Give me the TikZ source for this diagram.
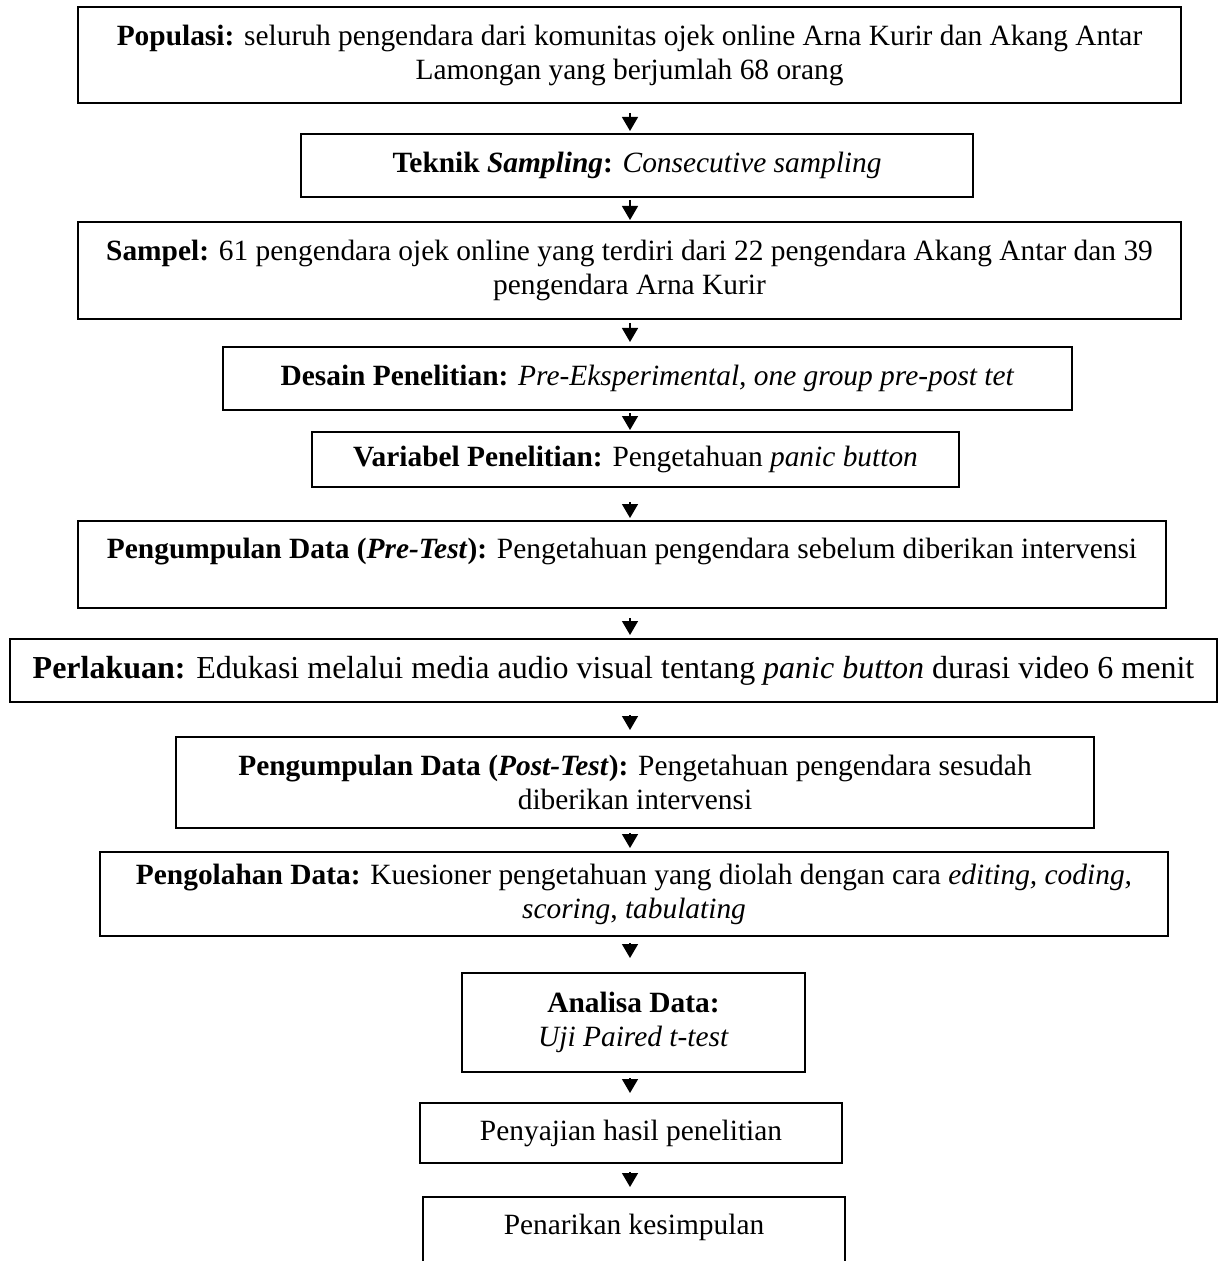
\documentclass[tikz,border=0pt]{standalone}
\usepackage{fontspec}
\setmainfont{Liberation Serif}
\usetikzlibrary{arrows.meta}

\tikzset{
  box/.style={draw, line width=1.1pt, inner sep=0pt, outer sep=0pt, align=center,
    font=\fontsize{14.7}{17}\selectfont},
  arr/.style={line width=0.7pt, -{Triangle[width=8pt,length=7pt]}},
}

\begin{document}
\begin{tikzpicture}[x=0.5pt, y=-0.5pt]
  \useasboundingbox (0,0) rectangle (1219,1261);
  \fill[white] (0,0) rectangle (1219,1261);
  \coordinate (axis) at (630,0);

  % kotak alur penelitian
  \node[box, minimum width=551.5pt, minimum height=48pt] (pop) at (629.5,55)
    {\textbf{Populasi:} seluruh pengendara dari komunitas ojek online Arna Kurir dan Akang Antar\\
     Lamongan yang berjumlah 68 orang};
  \node[box, minimum width=336pt, minimum height=31.5pt] (teknik) at (637,165.5)
    {\textbf{Teknik \textit{Sampling}:} \textit{Consecutive sampling}};
  \node[box, minimum width=551.5pt, minimum height=48.5pt] (sampel) at (629.5,270.5)
    {\textbf{Sampel:} 61 pengendara ojek online yang terdiri dari 22 pengendara Akang Antar dan 39\\
     pengendara Arna Kurir};
  \node[box, minimum width=424.5pt, minimum height=31.5pt] (desain) at (647.5,378.5)
    {\textbf{Desain Penelitian:} \textit{Pre-Eksperimental, one group pre-post tet}};
  \node[box, minimum width=323.5pt, minimum height=27.5pt] (variabel) at (635.5,459.5)
    {\textbf{Variabel Penelitian:} Pengetahuan \textit{panic button}};
  \node[box, minimum width=544pt, anchor=north, text height=18.5pt, text depth=25pt] (pretest) at (622,521)
    {\textbf{Pengumpulan Data (\textit{Pre-Test}):} Pengetahuan pengendara sebelum diberikan intervensi};
  \node[box, minimum width=603.5pt, minimum height=31.5pt, font=\fontsize{16}{18}\selectfont] (perlakuan) at (613.5,670.5)
    {\textbf{Perlakuan:} Edukasi melalui media audio visual tentang \textit{panic button} durasi video 6 menit};
  \node[box, minimum width=459pt, minimum height=45.5pt] (posttest) at (635,782.5)
    {\textbf{Pengumpulan Data (\textit{Post-Test}):} Pengetahuan pengendara sesudah\\
     diberikan intervensi};
  \node[box, minimum width=534pt, minimum height=42pt] (olah) at (634,894)
    {\textbf{Pengolahan Data:} Kuesioner pengetahuan yang diolah dengan cara \textit{editing, coding,}\\
     \textit{scoring}, \textit{tabulating}};
  \node[box, minimum width=171.5pt, minimum height=49.5pt] (analisa) at (633.5,1022.5)
    {\textbf{Analisa Data:}\\ \textit{Uji Paired t-test}};
  \node[box, minimum width=211pt, minimum height=30pt] (sajian) at (631,1133)
    {Penyajian hasil penelitian};
  \node[box, minimum width=211pt, anchor=north, text height=18.5pt, text depth=22pt] (simpul) at (634,1197)
    {Penarikan kesimpulan};

  % panah
  \draw[arr, shorten <=5pt, shorten >=1.5pt] (pop.south -| axis) -- (teknik.north -| axis);
  \draw[arr, shorten <=1.5pt, shorten >=1pt] (teknik.south -| axis) -- (sampel.north -| axis);
  \draw[arr, shorten <=2pt, shorten >=2.5pt] (sampel.south -| axis) -- (desain.north -| axis);
  \draw[arr, shorten <=1.5pt, shorten >=1pt] (desain.south -| axis) -- (variabel.north -| axis);
  \draw[arr, shorten <=7.5pt, shorten >=1.5pt] (variabel.south -| axis) -- (pretest.north -| axis);
  \draw[arr, shorten <=5pt, shorten >=2pt] (pretest.south -| axis) -- (perlakuan.north -| axis);
  \draw[arr, shorten <=6.5pt, shorten >=3.5pt] (perlakuan.south -| axis) -- (posttest.north -| axis);
  \draw[arr, shorten <=2.5pt, shorten >=2pt] (posttest.south -| axis) -- (olah.north -| axis);
  \draw[arr, shorten <=3.5pt, shorten >=7.5pt] (olah.south -| axis) -- (analisa.north -| axis);
  \draw[arr, shorten <=3pt, shorten >=5pt] (analisa.south -| axis) -- (sajian.north -| axis);
  \draw[arr, shorten <=4.5pt, shorten >=5pt] (sajian.south -| axis) -- (simpul.north -| axis);
\end{tikzpicture}
\end{document}
